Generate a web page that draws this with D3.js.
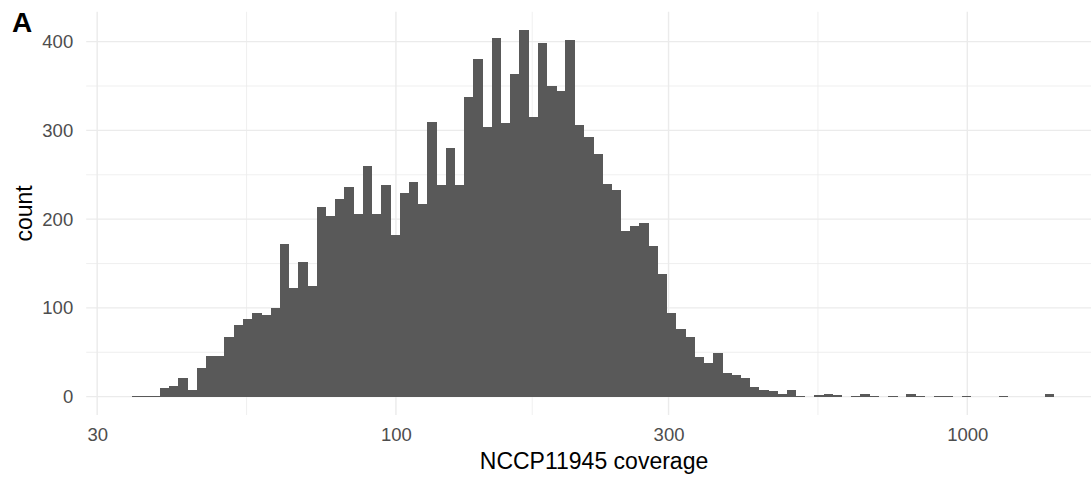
<!DOCTYPE html>
<html>
<head>
<meta charset="utf-8">
<script src="https://cdn.jsdelivr.net/npm/d3@7"></script>
<style>
  body { margin: 0; background: #fff; }
  text { font-family: "Liberation Sans", Arial, Helvetica, sans-serif; }
</style>
</head>
<body>
<script>
// histogram counts, 100 equal-width bins on a log10 axis
const counts = [
  1, 1, 1, 10, 12, 21, 8, 32, 46, 46,
  67, 81, 87, 94, 92, 100, 172, 122, 152, 125,
  214, 204, 223, 236, 206, 260, 206, 238, 182, 229,
  242, 217, 309, 239, 280, 239, 338, 380, 304, 404,
  308, 364, 413, 315, 399, 350, 344, 402, 306, 293,
  273, 240, 233, 187, 192, 196, 170, 138, 94, 76,
  67, 45, 38, 49, 27, 24, 21, 11, 8, 6,
  3, 7, 1, 0, 2, 3, 2, 0, 1, 3,
  1, 0, 1, 0, 3, 1, 0, 1, 1, 0,
  1, 0, 0, 0, 1, 0, 0, 0, 0, 3
];
// outer edges of the first and last bin (coverage)
const binRange = [34.56, 1417.6];
const xTicks = [30, 100, 300, 1000];
const xMinor = [54.77, 173.2, 547.7];
const yTicks = [0, 100, 200, 300, 400];
const yMinor = [50, 150, 250, 350];

const W = 1091, H = 479;
const panel = { left: 86.2, right: 1100, top: 11.8, bottom: 415 };

const svg = d3.select("body").append("svg")
  .attr("width", W)
  .attr("height", H);

// bin edges, equal width in log space
const lo = Math.log10(binRange[0]), hi = Math.log10(binRange[1]);
const step = (hi - lo) / counts.length;
const bins = counts.map((c, i) => ({
  x0: Math.pow(10, lo + i * step),
  x1: Math.pow(10, lo + (i + 1) * step),
  count: c
}));

// ggplot style 5% expansion
const padX = (hi - lo) * 0.05;
const x = d3.scaleLog()
  .domain([Math.pow(10, lo - padX), Math.pow(10, hi + padX)])
  .range([panel.left, panel.right]);

const yMax = d3.max(counts);
const y = d3.scaleLinear()
  .domain([-yMax * 0.05, yMax * 1.05])
  .range([panel.bottom, panel.top]);

// grid
const grid = svg.append("g");
grid.selectAll(".ymin").data(yMinor).join("line")
  .attr("x1", panel.left).attr("x2", panel.right)
  .attr("y1", d => y(d)).attr("y2", d => y(d))
  .attr("stroke", "#ebebeb").attr("stroke-width", 0.8);
grid.selectAll(".xmin").data(xMinor).join("line")
  .attr("y1", panel.top).attr("y2", panel.bottom)
  .attr("x1", d => x(d)).attr("x2", d => x(d))
  .attr("stroke", "#ebebeb").attr("stroke-width", 0.8);
grid.selectAll(".ymaj").data(yTicks).join("line")
  .attr("x1", panel.left).attr("x2", panel.right)
  .attr("y1", d => y(d)).attr("y2", d => y(d))
  .attr("stroke", "#ebebeb").attr("stroke-width", 1.4);
grid.selectAll(".xmaj").data(xTicks).join("line")
  .attr("y1", panel.top).attr("y2", panel.bottom)
  .attr("x1", d => x(d)).attr("x2", d => x(d))
  .attr("stroke", "#ebebeb").attr("stroke-width", 1.4);

// bars
svg.append("g")
  .attr("shape-rendering", "crispEdges")
  .selectAll("rect")
  .data(bins.filter(d => d.count > 0))
  .join("rect")
  .attr("x", d => x(d.x0))
  .attr("width", d => x(d.x1) - x(d.x0) + 0.4)
  .attr("y", d => y(d.count))
  .attr("height", d => Math.max(1, y(0) - y(d.count)))
  .attr("fill", "#595959");

// axes (labels only, like theme_minimal)
const xAxis = svg.append("g")
  .attr("transform", `translate(0,${panel.bottom})`)
  .call(d3.axisBottom(x).tickValues(xTicks).tickFormat(d3.format("d")).tickSize(0).tickPadding(13));
const yAxis = svg.append("g")
  .attr("transform", `translate(${panel.left},0)`)
  .call(d3.axisLeft(y).tickValues(yTicks).tickSize(0).tickPadding(13));
[xAxis, yAxis].forEach(a => {
  a.select(".domain").remove();
  a.selectAll("text")
    .attr("fill", "#4d4d4d")
    .style("font-size", "18.5px")
    .style("font-family", '"Liberation Sans", Arial, sans-serif');
});

// titles
svg.append("text")
  .attr("x", 594)
  .attr("y", 469)
  .attr("text-anchor", "middle")
  .style("font-size", "23px")
  .attr("fill", "#000")
  .text("NCCP11945 coverage");

svg.append("text")
  .attr("transform", `translate(32,${(panel.top + panel.bottom) / 2}) rotate(-90)`)
  .attr("text-anchor", "middle")
  .style("font-size", "23px")
  .attr("fill", "#000")
  .text("count");

svg.append("text")
  .attr("x", 12)
  .attr("y", 32)
  .style("font-size", "28px")
  .style("font-weight", "bold")
  .attr("fill", "#000")
  .text("A");
</script>
</body>
</html>
